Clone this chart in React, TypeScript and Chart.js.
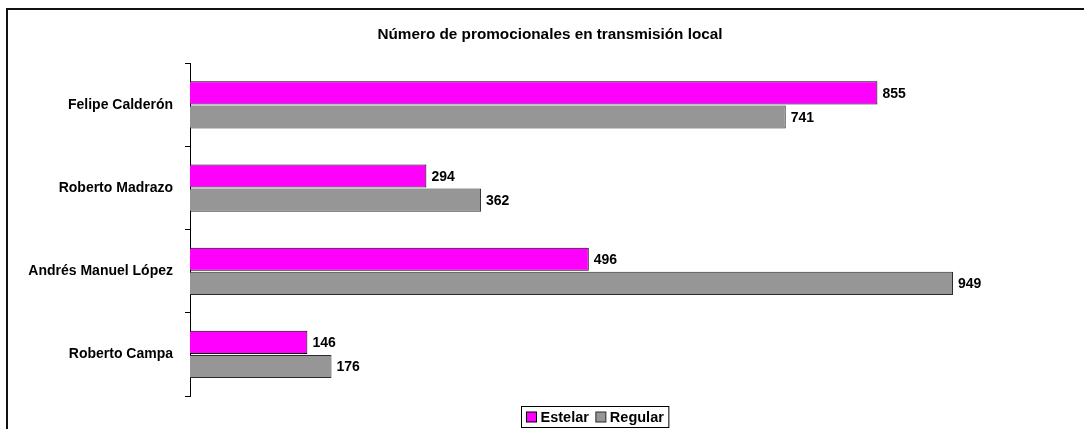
import React, { useEffect, useRef } from "react";
import { Chart, registerables } from "chart.js";

Chart.register(...registerables);

const categories = ["Felipe Calderón", "Roberto Madrazo", "Andrés Manuel López", "Roberto Campa"];
const estelarValues = [855, 294, 496, 146];
const regularValues = [741, 362, 949, 176];
const seriesNames = ["Estelar", "Regular"];
const titleText = "Número de promocionales en transmisión local";
const xMin = 0;
const xMax = 1000;

const FONT = "'Liberation Sans', Arial, Helvetica, sans-serif";

const valueLabels = {
  id: "valueLabels",
  afterDatasetsDraw(chart: any) {
    const ctx = chart.ctx;
    ctx.save();
    ctx.font = `bold 14px ${FONT}`;
    ctx.fillStyle = "#000";
    ctx.textAlign = "left";
    ctx.textBaseline = "middle";
    chart.data.datasets.forEach((ds: any, di: number) => {
      const meta = chart.getDatasetMeta(di);
      meta.data.forEach((el: any, i: number) => {
        ctx.fillText(String(ds.data[i]), el.x + 5, el.y + 1);
      });
    });
    ctx.restore();
  },
};

const boxedLegend = {
  id: "boxedLegend",
  afterDraw(chart: any, _args: any, opts: any) {
    const ctx = chart.ctx;
    ctx.save();
    ctx.font = `bold 14.5px ${FONT}`;
    const ds = chart.data.datasets;
    const pad = 5, sq = 10, gapT = 4, gapI = 7;
    const widths = ds.map((d: any) => ctx.measureText(d.label).width);
    let total = pad * 2;
    widths.forEach((w: number, i: number) => {
      total += sq + gapT + w + (i < widths.length - 1 ? gapI : 0);
    });
    const left = Math.round(opts.centerX - total / 2) + 0.5;
    const top = opts.top + 0.5;
    const h = opts.height;
    ctx.fillStyle = "#fff";
    ctx.fillRect(left, top, total, h);
    ctx.strokeStyle = "#000";
    ctx.lineWidth = 1;
    ctx.strokeRect(left, top, total, h);
    let x = left + pad;
    const cy = top + h / 2;
    ds.forEach((d: any, i: number) => {
      ctx.fillStyle = d.backgroundColor;
      ctx.fillRect(x, cy - sq / 2, sq, sq);
      ctx.strokeStyle = d.borderColor;
      ctx.strokeRect(x, cy - sq / 2, sq, sq);
      x += sq + gapT;
      ctx.fillStyle = "#000";
      ctx.textAlign = "left";
      ctx.textBaseline = "middle";
      ctx.fillText(d.label, x, cy + 1);
      x += widths[i] + gapI;
    });
    ctx.restore();
  },
};

export default function App() {
  const ref = useRef<HTMLCanvasElement>(null);

  useEffect(() => {
    if (!ref.current) return;
    const chart = new Chart(ref.current, {
      type: "bar",
      data: {
        labels: categories,
        datasets: [
          {
            label: seriesNames[0],
            data: estelarValues,
            backgroundColor: "#FF00FF",
            borderColor: "#000000",
            borderWidth: 1,
            categoryPercentage: 0.58,
            barPercentage: 0.96,
          },
          {
            label: seriesNames[1],
            data: regularValues,
            backgroundColor: "#969696",
            borderColor: "#2a2a2a",
            borderWidth: 1,
            categoryPercentage: 0.58,
            barPercentage: 0.96,
          },
        ],
      },
      options: {
        indexAxis: "y",
        responsive: false,
        animation: false,
        devicePixelRatio: 1,
        layout: { padding: { left: 0, right: 0, top: 0, bottom: 33 } },
        scales: {
          x: { display: false, min: xMin, max: xMax },
          y: {
            type: "category",
            offset: true,
            grid: {
              display: true,
              drawOnChartArea: false,
              drawTicks: true,
              tickLength: 5,
              color: "#000",
              offset: true,
            },
            border: { display: true, color: "#000", width: 1 },
            ticks: {
              color: "#000",
              padding: 12,
              font: { family: FONT, size: 14, weight: "bold" },
            },
            afterFit: (s: any) => {
              s.width = 190;
            },
          },
          spacer: {
            type: "linear",
            position: "right",
            display: true,
            grid: { display: false, drawTicks: false },
            border: { display: false },
            ticks: { display: false },
            afterFit: (s: any) => {
              s.width = 106;
            },
          },
        },
        plugins: {
          legend: { display: false },
          tooltip: { enabled: false },
          title: {
            display: true,
            text: titleText,
            color: "#000",
            font: { family: FONT, size: 15.3, weight: "bold" },
            padding: { top: 26, bottom: 19 },
          },
          boxedLegend: { centerX: 595, top: 406, height: 21 },
        } as any,
      },
      plugins: [valueLabels, boxedLegend],
    } as any);
    return () => chart.destroy();
  }, []);

  return (
    <div
      style={{
        position: "fixed",
        left: 0,
        top: 0,
        width: 1084,
        height: 429,
        overflow: "hidden",
        background: "#fff",
      }}
    >
      <canvas ref={ref} width={1100} height={429} style={{ position: "absolute", left: 0, top: 0 }} />
      <div
        style={{
          position: "absolute",
          left: 6,
          top: 8,
          width: 1200,
          height: 600,
          borderTop: "2px solid #111",
          borderLeft: "2px solid #111",
          pointerEvents: "none",
        }}
      />
    </div>
  );
}
